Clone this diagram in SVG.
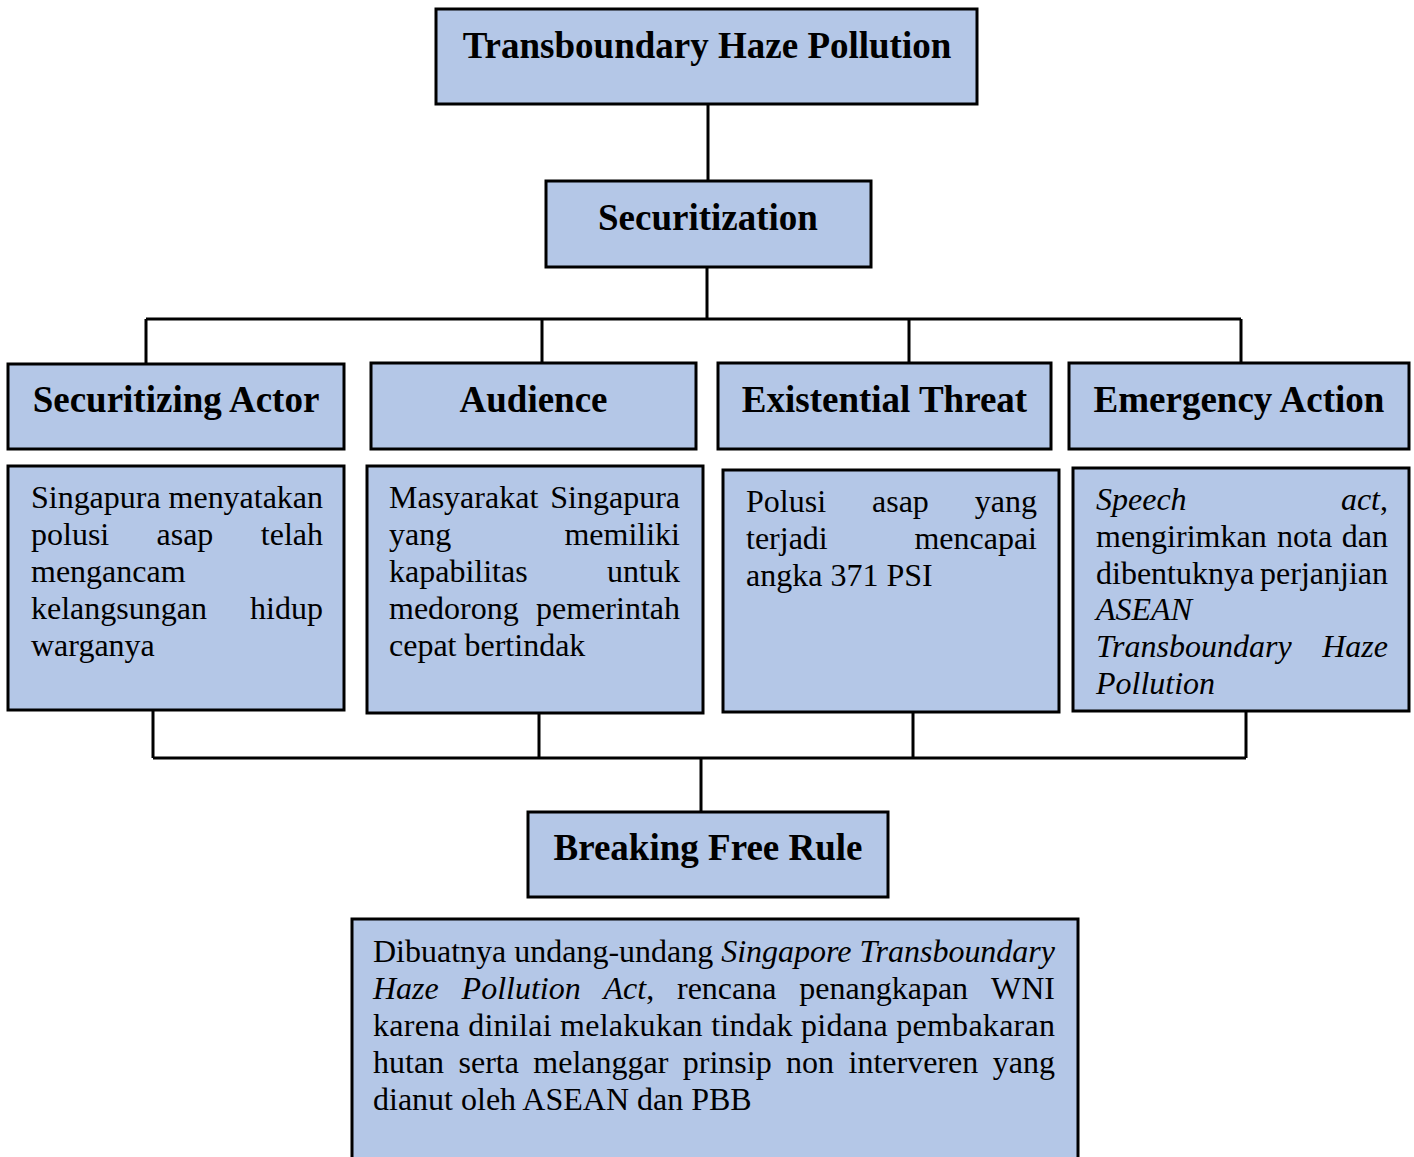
<svg xmlns="http://www.w3.org/2000/svg" width="1414" height="1157" viewBox="0 0 1414 1157">
<style>
.box{fill:#B4C7E7;stroke:#000;stroke-width:3}
.h{font-family:"Liberation Serif","Times New Roman",serif;font-weight:bold;font-size:37px;fill:#000;text-anchor:middle}
.b{font-family:"Liberation Serif","Times New Roman",serif;font-size:32px;fill:#000}
.i{font-style:italic}
.e{text-anchor:end}
.c{fill:none;stroke:#000;stroke-width:3}
</style>
<rect width="1414" height="1157" fill="#fff"/>
<g id="connectors">
<path class="c" d="M708 104V181M707 267V319M146 319H1241M146 319V364M542 319V363M909 319V363M1241 319V363"/>
<path class="c" d="M153 710V758M539 713V758M913 712V758M1246 711V758M153 758H1246M701 758V812"/>
</g>
<g id="n-thp"><rect class="box" x="436" y="9" width="541" height="95"/><text class="h" x="707" y="58">Transboundary Haze Pollution</text></g>
<g id="n-sec"><rect class="box" x="546" y="181" width="325" height="86"/><text class="h" x="708" y="230">Securitization</text></g>
<g id="n-actor"><rect class="box" x="8" y="364" width="336" height="85"/><text class="h" x="176" y="412">Securitizing Actor</text></g>
<g id="n-aud"><rect class="box" x="371" y="363" width="325" height="86"/><text class="h" x="533.5" y="412">Audience</text></g>
<g id="n-threat"><rect class="box" x="718" y="363" width="333" height="86"/><text class="h" x="884.5" y="412">Existential Threat</text></g>
<g id="n-emerg"><rect class="box" x="1069" y="363" width="340" height="86"/><text class="h" x="1239" y="412">Emergency Action</text></g>
<g id="d-actor"><rect class="box" x="8" y="466" width="336" height="244"/>
<text class="b" x="31" y="508" textLength="292" lengthAdjust="spacing">Singapura menyatakan</text>
<text class="b" y="545"><tspan x="31">polusi</tspan><tspan x="156.5">asap</tspan></text><text class="b e" x="323" y="545">telah</text>
<text class="b" x="31" y="582">mengancam</text>
<text class="b" x="31" y="619">kelangsungan</text><text class="b e" x="323" y="619">hidup</text>
<text class="b" x="31" y="656">warganya</text>
</g>
<g id="d-aud"><rect class="box" x="367" y="466" width="336" height="247"/>
<text class="b" x="389" y="508">Masyarakat</text><text class="b e" x="680" y="508">Singapura</text>
<text class="b" x="389" y="545">yang</text><text class="b e" x="680" y="545">memiliki</text>
<text class="b" x="389" y="582">kapabilitas</text><text class="b e" x="680" y="582">untuk</text>
<text class="b" x="389" y="619">medorong</text><text class="b e" x="680" y="619">pemerintah</text>
<text class="b" x="389" y="656">cepat bertindak</text>
</g>
<g id="d-threat"><rect class="box" x="723" y="470" width="336" height="242"/>
<text class="b" y="512"><tspan x="746">Polusi</tspan><tspan x="872">asap</tspan></text><text class="b e" x="1037" y="512">yang</text>
<text class="b" x="746" y="549">terjadi</text><text class="b e" x="1037" y="549">mencapai</text>
<text class="b" x="746" y="586">angka 371 PSI</text>
</g>
<g id="d-emerg"><rect class="box" x="1073" y="468" width="336" height="243"/>
<text class="b i" x="1096" y="510">Speech</text><text class="b e" x="1388" y="510"><tspan class="i">act</tspan>,</text>
<text class="b" y="547"><tspan x="1096">mengirimkan</tspan><tspan x="1277">nota</tspan></text><text class="b e" x="1388" y="547">dan</text>
<text class="b" x="1096" y="584">dibentuknya</text><text class="b e" x="1388" y="584">perjanjian</text>
<text class="b i" x="1096" y="620">ASEAN</text>
<text class="b i" x="1096" y="657">Transboundary</text><text class="b i e" x="1388" y="657">Haze</text>
<text class="b i" x="1096" y="694">Pollution</text>
</g>
<g id="n-bfr"><rect class="box" x="528" y="812" width="360" height="85"/><text class="h" x="708" y="860">Breaking Free Rule</text></g>
<g id="d-bfr"><rect class="box" x="352" y="919" width="726" height="250"/>
<text class="b" x="373" y="962" textLength="682" lengthAdjust="spacing">Dibuatnya undang-undang <tspan class="i">Singapore Transboundary</tspan></text>
<text class="b" y="999"><tspan class="i" x="373">Haze</tspan><tspan class="i" x="461.6">Pollution</tspan><tspan x="603.5"><tspan class="i">Act</tspan>,</tspan><tspan x="677">rencana</tspan><tspan x="799.3">penangkapan</tspan></text><text class="b e" x="1055" y="999">WNI</text>
<text class="b" x="373" y="1036" textLength="682" lengthAdjust="spacing">karena dinilai melakukan tindak pidana pembakaran</text>
<text class="b" y="1073"><tspan x="373">hutan</tspan><tspan x="458.5">serta</tspan><tspan x="533.3">melanggar</tspan><tspan x="682.8">prinsip</tspan><tspan x="786.1">non</tspan><tspan x="848.5">interveren</tspan></text><text class="b e" x="1055" y="1073">yang</text>
<text class="b" x="373" y="1110">dianut oleh ASEAN dan PBB</text>
</g>
</svg>
